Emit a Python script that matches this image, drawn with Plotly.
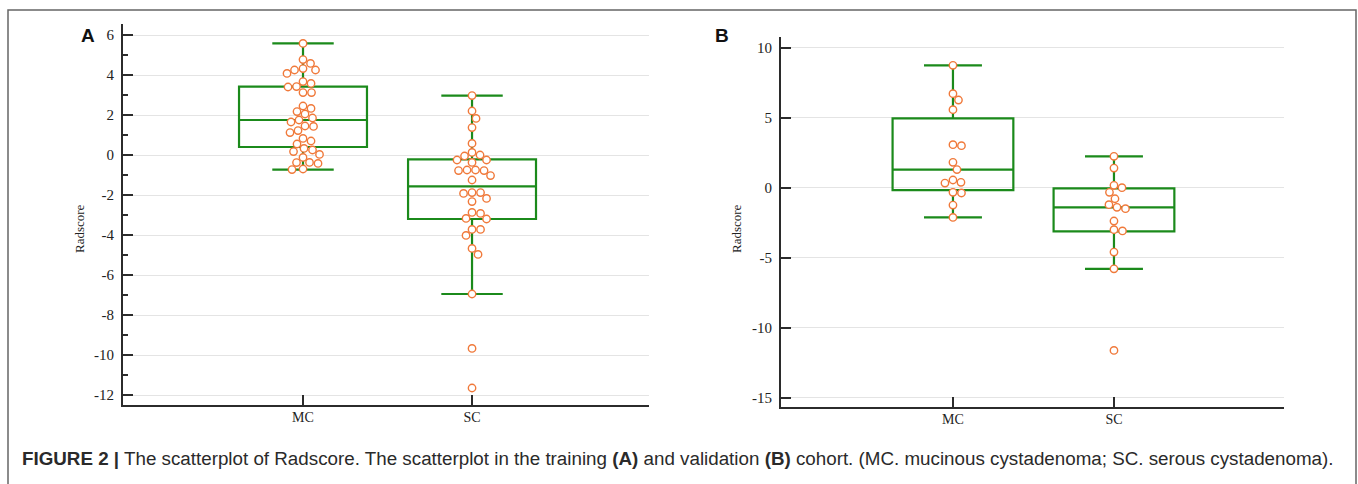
import plotly.graph_objects as go
import numpy as np

# ---------------- data ----------------
CATEGORIES = ["MC", "SC"]

# Panel A (training cohort)
A_MC = [5.58, 4.77, 4.58, 4.32, 4.25, 4.25, 4.08, 3.67, 3.58, 3.42, 3.40, 3.12, 3.12,
        2.45, 2.33, 2.17, 2.05, 1.85, 1.75, 1.65, 1.45, 1.43, 1.22, 1.12, 0.83, 0.70,
        0.55, 0.33, 0.25, 0.17, 0.03, -0.12, -0.37, -0.38, -0.42, -0.70, -0.73]
A_SC = [2.97, 2.20, 1.83, 1.37, 0.58, 0.13, 0.00, -0.05, -0.25, -0.25, -0.37,
        -0.75, -0.75, -0.78, -0.78, -1.03, -1.25, -1.88, -1.88, -1.92, -2.17, -2.33,
        -2.87, -2.92, -3.17, -3.20, -3.72, -3.72, -4.02, -4.67, -4.97, -6.95, -9.67, -11.65]
A_Q1 = [0.40, -3.20]
A_MED = [1.75, -1.57]
A_Q3 = [3.42, -0.22]
A_LO = [-0.73, -6.95]
A_HI = [5.58, 2.97]

# Panel B (validation cohort)
B_MC = [8.74, 6.71, 6.26, 5.57, 3.07, 3.00, 1.81, 1.29, 0.55, 0.38, 0.33, -0.33, -0.38,
        -1.24, -2.12]
B_SC = [2.24, 1.40, 0.17, 0.00, -0.33, -0.79, -1.21, -1.40, -1.50, -2.38, -3.00, -3.09,
        -4.60, -5.79, -11.62]
B_Q1 = [-0.17, -3.12]
B_MED = [1.29, -1.40]
B_Q3 = [4.95, -0.05]
B_LO = [-2.12, -5.79]
B_HI = [8.74, 2.24]

A_YTICKS = [-12, -10, -8, -6, -4, -2, 0, 2, 4, 6]
B_YTICKS = [-15, -10, -5, 0, 5, 10]

# ---------------- layout constants ----------------
W, H = 1358, 484
GREEN = "#1b8a1b"
ORANGE = "#f0793a"
AXIS = "#2b2b2b"
GRID = "#e4e4e4"
SERIF = "Liberation Serif, Times New Roman, serif"
SANS = "Liberation Sans, Arial, sans-serif"

A_XDOM = [123 / W, 649 / W]
A_YDOM = [79 / H, 460 / H]
A_XR = [-1.065, 2.047]
A_YR = [-12.5, 6.55]

B_XDOM = [781 / W, 1284 / W]
B_YDOM = [77 / H, 447 / H]
B_XR = [-1.068, 2.056]
B_YR = [-15.66, 10.76]

MARK_D = 8.2  # swarm spacing in px


def swarm(values, xdom, xr, ydom, yr):
    xppu = (xdom[1] - xdom[0]) * W / (xr[1] - xr[0])
    yppu = (ydom[1] - ydom[0]) * H / (yr[1] - yr[0])
    vals = np.asarray(values, dtype=float)
    order = np.argsort(-vals)
    placed = []
    offs = np.zeros(len(vals))
    step = 0.5
    for i in order:
        y = vals[i] * yppu
        found = None
        for k in range(0, 400):
            cands = [0.0] if k == 0 else [k * step, -k * step]
            for c in cands:
                ok = all((c - px) ** 2 + (y - py) ** 2 >= MARK_D ** 2 for px, py in placed)
                if ok:
                    found = c
                    break
            if found is not None:
                break
        placed.append((found, y))
        offs[i] = found / xppu
    return offs


fig = go.Figure()


def add_panel(mc, sc, q1, med, q3, lo, hi, xdom, xr, ydom, yr, xa, ya, boxw):
    fig.add_trace(go.Box(
        x=[0, 1], q1=q1, median=med, q3=q3, lowerfence=lo, upperfence=hi,
        width=boxw, whiskerwidth=0.48, boxpoints=False,
        line=dict(color=GREEN, width=2.2), fillcolor="rgba(0,0,0,0)",
        xaxis=xa, yaxis=ya, showlegend=False, hoverinfo="skip"))
    for ci, vals in enumerate([mc, sc]):
        off = swarm(vals, xdom, xr, ydom, yr)
        fig.add_trace(go.Scatter(
            x=ci + off, y=vals, mode="markers",
            marker=dict(symbol="circle", size=7.4, color="white",
                        line=dict(color=ORANGE, width=1.4)),
            xaxis=xa, yaxis=ya, showlegend=False, hoverinfo="skip"))


add_panel(A_MC, A_SC, A_Q1, A_MED, A_Q3, A_LO, A_HI, A_XDOM, A_XR, A_YDOM, A_YR, "x", "y", 0.757)
add_panel(B_MC, B_SC, B_Q1, B_MED, B_Q3, B_LO, B_HI, B_XDOM, B_XR, B_YDOM, B_YR, "x2", "y2", 0.75)


def xaxis(dom, rng, anchor):
    return dict(domain=dom, range=rng, anchor=anchor, tickvals=[0, 1], ticktext=CATEGORIES,
                showline=True, linewidth=2, linecolor=AXIS, ticks="inside", ticklen=10,
                tickwidth=2, tickcolor=AXIS, showgrid=False, zeroline=False,
                ticklabelstandoff=-2,
                tickfont=dict(family=SERIF, size=14, color="#222"), fixedrange=True)


def yaxis(dom, rng, anchor, ticks, minor):
    d = dict(domain=dom, range=rng, anchor=anchor, tickvals=ticks,
             ticktext=[str(t) for t in ticks],
             showline=True, linewidth=2, linecolor=AXIS, ticks="inside", ticklen=10,
             tickwidth=2, tickcolor=AXIS, showgrid=True, gridcolor=GRID, gridwidth=1.2,
             zeroline=False, ticklabelstandoff=4,
             tickfont=dict(family=SERIF, size=15, color="#222"),
             fixedrange=True)
    if minor:
        d["minor"] = dict(dtick=1, tick0=0, ticks="inside", ticklen=5, tickwidth=2,
                          tickcolor=AXIS, showgrid=False)
    return d


fig.update_layout(
    width=W, height=H, margin=dict(l=0, r=0, t=0, b=0),
    paper_bgcolor="white", plot_bgcolor="white",
    xaxis=xaxis(A_XDOM, A_XR, "y"),
    yaxis=yaxis(A_YDOM, A_YR, "x", A_YTICKS, True),
    xaxis2=xaxis(B_XDOM, B_XR, "y2"),
    yaxis2=yaxis(B_YDOM, B_YR, "x2", B_YTICKS, False),
)

annos = [
    dict(text="Radscore", x=80 / W, y=1 - 229 / H, textangle=-90,
         font=dict(family=SERIF, size=13, color="#222")),
    dict(text="Radscore", x=737 / W, y=1 - 229 / H, textangle=-90,
         font=dict(family=SERIF, size=13, color="#222")),
    dict(text="<b>A</b>", x=88 / W, y=1 - 36 / H, font=dict(family=SANS, size=19, color="#111")),
    dict(text="<b>B</b>", x=722 / W, y=1 - 36 / H, font=dict(family=SANS, size=19, color="#111")),
    dict(text="<b>FIGURE 2 |</b> The scatterplot of Radscore. The scatterplot in the training "
              "<b>(A)</b> and validation <b>(B)</b> cohort. (MC. mucinous cystadenoma; "
              "SC. serous cystadenoma).",
         x=20 / W, y=1 - 458 / H, xanchor="left",
         font=dict(family=SANS, size=18.8, color="#2a2a2a")),
]
for a in annos:
    a.setdefault("xanchor", "center")
    fig.add_annotation(xref="paper", yref="paper", yanchor="middle", showarrow=False, **a)

fig.add_shape(type="rect", xref="paper", yref="paper",
              x0=8 / W, x1=1356 / W, y0=-0.05, y1=1 - 10 / H,
              line=dict(color="#666", width=1.5), fillcolor="rgba(0,0,0,0)", layer="below")

fig.write_html("out.html")
